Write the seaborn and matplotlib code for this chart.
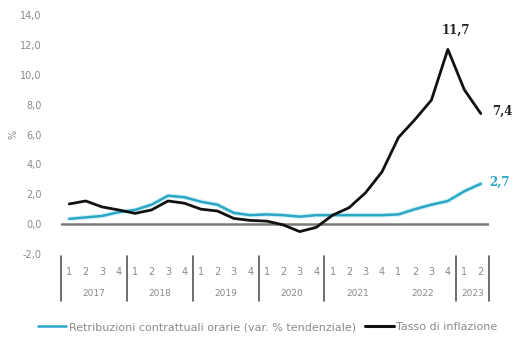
import matplotlib
matplotlib.use("Agg")
import matplotlib.pyplot as plt
import seaborn as sns
import pandas as pd
import numpy as np
from matplotlib.lines import Line2D

# ---- data (quarterly, 2017Q1 - 2023Q2) ----
years = ["2017", "2018", "2019", "2020", "2021", "2022", "2023"]
quarters_per_year = [4, 4, 4, 4, 4, 4, 2]
quarter_labels = ["1", "2", "3", "4"] * 6 + ["1", "2"]

wages = [0.35, 0.45, 0.55, 0.8, 0.95, 1.3, 1.9, 1.8, 1.5, 1.3, 0.75, 0.6,
         0.65, 0.6, 0.5, 0.6, 0.6, 0.6, 0.6, 0.6, 0.65, 1.0, 1.3, 1.55, 2.2, 2.7]
inflation = [1.35, 1.55, 1.15, 0.95, 0.72, 0.95, 1.55, 1.4, 1.0, 0.88, 0.38, 0.25,
             0.2, -0.05, -0.5, -0.22, 0.6, 1.1, 2.1, 3.5, 5.8, 7.0, 8.3, 11.7, 9.0, 7.4]

series_wages = "Retribuzioni contrattuali orarie (var. % tendenziale)"
series_infl = "Tasso di inflazione"

y_ticks = [-2, 0, 2, 4, 6, 8, 10, 12, 14]
y_ticklabels = ["-2,0", "0,0", "2,0", "4,0", "6,0", "8,0", "10,0", "12,0", "14,0"]

blue = "#2aa7c6"
black = "#111111"
gray = "#8a8a8a"

n = len(quarter_labels)
df = pd.DataFrame({
    "q": list(range(n)) * 2,
    "val": wages + inflation,
    "serie": [series_wages] * n + [series_infl] * n,
})

sns.set_style("white")
fig = plt.figure(figsize=(5.14, 3.37), dpi=100)
ax = fig.add_axes([61 / 514, 1 - 254 / 337, (489 - 61) / 514, (254 - 15) / 337])

# light halo below the blue line
ax.plot(df.loc[df.serie == series_wages, "q"], df.loc[df.serie == series_wages, "val"],
        color="#d3f1f7", lw=3.4, solid_capstyle="round", zorder=1)
sns.lineplot(data=df, x="q", y="val", hue="serie",
             palette={series_wages: blue, series_infl: black},
             linewidth=1.8, ax=ax, legend=False, zorder=3)
ax.lines[-1].set_linewidth(2.0)

ax.axhline(0, color="#7a7a7a", lw=1.8, zorder=2)

ax.set_xlim(-0.5, n - 0.5)
ax.set_ylim(-2, 14)
ax.set_yticks(y_ticks)
ax.set_yticklabels(y_ticklabels, fontsize=7, color=gray)
ax.tick_params(axis="y", length=0, pad=14)
ax.set_xticks([])
ax.set_xlabel("")
ax.set_ylabel("%", fontsize=7, color=gray, labelpad=1)
for s in ax.spines.values():
    s.set_visible(False)

# category axis: quarter numbers, years and separators
trans = ax.get_xaxis_transform()
for i, lab in enumerate(quarter_labels):
    ax.text(i, -0.075, lab, transform=trans, ha="center", va="center",
            fontsize=7, color=gray, clip_on=False)
start = 0
seps = [-0.5]
for yr, k in zip(years, quarters_per_year):
    ax.text(start + (k - 1) / 2, -0.165, yr, transform=trans, ha="center",
            va="center", fontsize=6.5, color=gray, clip_on=False)
    start += k
    seps.append(start - 0.5)
for j, sx in enumerate(seps):
    if j == 5:  # no separator drawn between 2021 and 2022 in the reference
        continue
    ax.add_line(Line2D([sx, sx], [-0.01, -0.195], transform=trans, color="#555555",
                       lw=1.2, clip_on=False))

# value labels
ax.annotate("11,7", xy=(23, inflation[23]), xytext=(6, 9), textcoords="offset points",
            ha="center", va="bottom", fontsize=8.5, fontweight="bold", color="#222222",
            family="DejaVu Serif")
ax.annotate("7,4", xy=(n - 1, inflation[-1]), xytext=(8, 2), textcoords="offset points",
            ha="left", va="center", fontsize=8.5, fontweight="bold", color="#222222",
            family="DejaVu Serif", annotation_clip=False)
ax.annotate("2,7", xy=(n - 1, wages[-1]), xytext=(6, 1), textcoords="offset points",
            ha="left", va="center", fontsize=8.5, fontweight="bold", color=blue,
            family="DejaVu Serif", annotation_clip=False)

handles = [Line2D([], [], color=blue, lw=1.8), Line2D([], [], color=black, lw=2.2)]
fig.legend(handles, [series_wages, series_infl], loc="center", ncol=2,
           bbox_to_anchor=(0.52, 1 - 327 / 337), frameon=False, fontsize=8,
           labelcolor=gray, handlelength=2.6, handletextpad=0.2, columnspacing=0.8)

fig.savefig("out.png", dpi=100)
